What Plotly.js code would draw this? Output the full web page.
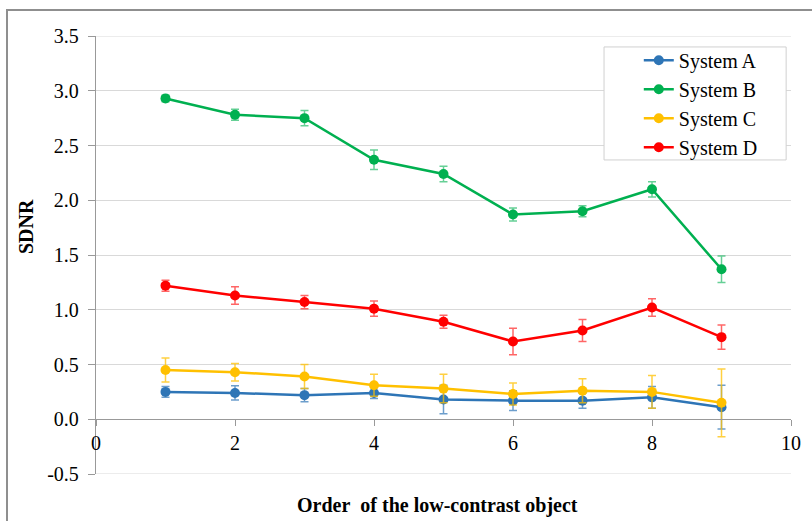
<!DOCTYPE html>
<html>
<head>
<meta charset="utf-8">
<script src="https://cdn.plot.ly/plotly-3.0.1.min.js"></script>
<style>
html,body{margin:0;padding:0;overflow:hidden;background:#fff;}
#wrap{position:relative;width:812px;height:521px;}
#chart{position:absolute;left:0;top:0;width:812px;height:521px;}
#frame{position:absolute;left:6px;top:9px;width:900px;height:900px;border:2px solid #8f8f8f;pointer-events:none;}
</style>
</head>
<body>
<div id="wrap"><div id="chart"></div><div id="frame"></div></div>
<script>
const order = [1, 2, 3, 4, 5, 6, 7, 8, 9];
const seriesNames = ["System A", "System B", "System C", "System D"];
const sysA = [0.25, 0.24, 0.22, 0.24, 0.18, 0.17, 0.17, 0.20, 0.11];
const sysAErr = [0.05, 0.065, 0.06, 0.05, 0.13, 0.09, 0.07, 0.10, 0.20];
const sysB = [2.93, 2.78, 2.75, 2.37, 2.24, 1.87, 1.90, 2.10, 1.37];
const sysBErr = [0.03, 0.05, 0.07, 0.09, 0.07, 0.06, 0.05, 0.07, 0.12];
const sysC = [0.45, 0.43, 0.39, 0.31, 0.28, 0.23, 0.26, 0.25, 0.15];
const sysCErr = [0.11, 0.08, 0.11, 0.10, 0.13, 0.10, 0.11, 0.15, 0.31];
const sysD = [1.22, 1.13, 1.07, 1.01, 0.89, 0.71, 0.81, 1.02, 0.75];
const sysDErr = [0.05, 0.08, 0.06, 0.07, 0.06, 0.12, 0.10, 0.08, 0.11];
const yTicks = [-0.5, 0, 0.5, 1, 1.5, 2, 2.5, 3, 3.5];
const yTickText = ["-0.5", "0.0", "0.5", "1.0", "1.5", "2.0", "2.5", "3.0", "3.5"];
const xTicks = [0, 2, 4, 6, 8, 10];

const colors = ["#2E75B6", "#00B050", "#FFC000", "#FF0000"];
const errColors = ["rgba(46,117,182,0.7)", "rgba(0,176,80,0.6)", "rgba(255,192,0,0.75)", "rgba(255,0,0,0.6)"];
const vals = [sysA, sysB, sysC, sysD];
const errs = [sysAErr, sysBErr, sysCErr, sysDErr];

const traces = vals.map((v, i) => ({
  x: order, y: v, name: seriesNames[i], type: "scatter", mode: "lines+markers",
  line: {color: colors[i], width: 2.5},
  marker: {color: colors[i], size: 10, symbol: "circle"},
  error_y: {type: "data", array: errs[i], visible: true, color: errColors[i], thickness: 1.5, width: 4}
}));

const serif = "'Liberation Serif', 'Times New Roman', serif";
const edgeGrid = [yTicks[0], yTicks[yTicks.length - 1]].map(v => ({
  type: "line", xref: "paper", yref: "y", x0: 0, x1: 1, y0: v, y1: v,
  line: {color: "#d9d9d9", width: 1}, layer: "below"
}));
const legendBox = {
  type: "rect", xref: "paper", yref: "paper", x0: 0.731, x1: 0.993, y0: 0.717, y1: 0.975,
  line: {color: "#d0d0d0", width: 1}, fillcolor: "#fff", layer: "above"
};

const layout = {
  width: 812, height: 521,
  margin: {l: 96, r: 21, t: 36, b: 47},
  paper_bgcolor: "#fff", plot_bgcolor: "#fff",
  showlegend: true,
  font: {family: serif, size: 20, color: "#000"},
  xaxis: {
    range: [0, 10], tickvals: xTicks, ticktext: xTicks.map(String),
    showgrid: false, zeroline: false, showline: true, linecolor: "#999", linewidth: 1.2,
    ticks: "outside", ticklen: 6, tickcolor: "#999",
    anchor: "free", position: 0.125,
    tickfont: {family: serif, size: 20, color: "#000"}
  },
  yaxis: {
    range: [-0.5, 3.5], tickvals: yTicks, ticktext: yTickText,
    showgrid: true, gridcolor: "#d9d9d9", gridwidth: 1, zeroline: false,
    showline: true, linecolor: "#999", linewidth: 1.2,
    ticks: "outside", ticklen: 7, tickcolor: "#999", ticklabelstandoff: 5,
    tickfont: {family: serif, size: 20, color: "#000"}
  },
  legend: {
    x: 0.781, y: 0.989, xanchor: "left", yanchor: "top",
    borderwidth: 0, bgcolor: "rgba(0,0,0,0)",
    font: {family: serif, size: 20, color: "#000"},
    tracegroupgap: 0
  },
  shapes: edgeGrid.concat([legendBox]),
  annotations: [
    {text: "<b>SDNR</b>", xref: "paper", yref: "paper", x: -0.1008, y: 0.566,
     xanchor: "center", yanchor: "middle", textangle: -90, showarrow: false,
     font: {family: serif, size: 20, color: "#000"}},
    {text: "<b>Order\u00a0 of the low-contrast object</b>", xref: "paper", yref: "paper", x: 0.491, y: -0.073,
     xanchor: "center", yanchor: "middle", showarrow: false,
     font: {family: serif, size: 20, color: "#000"}}
  ]
};

Plotly.newPlot("chart", traces, layout, {displayModeBar: false, staticPlot: true});
</script>
</body>
</html>
